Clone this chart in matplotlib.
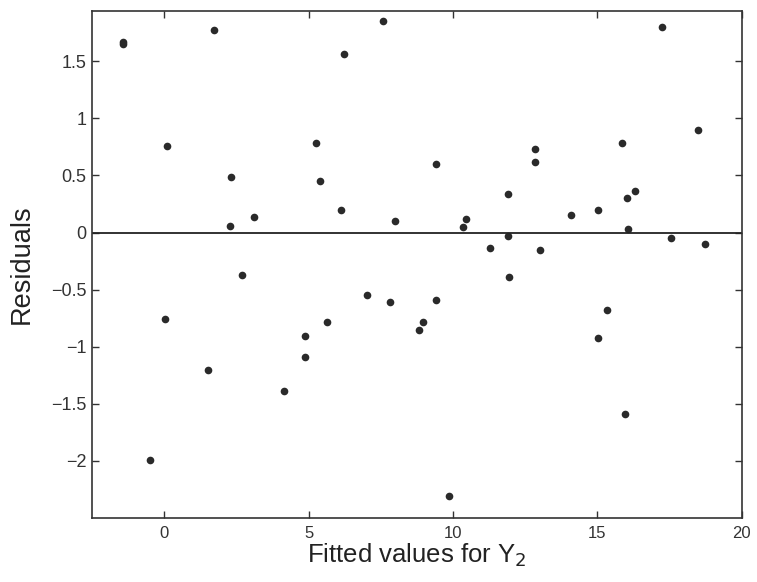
import numpy as np
import matplotlib
matplotlib.use('Agg')
import matplotlib.pyplot as plt

plt.rcParams['font.family'] = ['Liberation Sans', 'DejaVu Sans']

# fitted values and residuals
fitted = [-1.43, -1.43, 0.11, 1.74, 2.31, 2.27, 3.10, 5.24, 5.38, 6.21, 6.12, 7.57, 8.00,
          9.40, 10.33, 10.46, 11.89, 12.85, 12.84, 14.09, 15.02, 15.85, 16.01, 16.30,
          16.07, 17.22, 18.48, 17.54, 18.73, 11.28, 11.89, 13.02,
          -0.50, 0.02, 1.53, 2.71, 4.16, 4.87, 4.86, 5.63, 7.01, 7.82, 8.82, 8.97,
          9.41, 9.86, 11.93, 15.03, 15.34, 15.95]
residuals = [1.65, 1.67, 0.76, 1.77, 0.49, 0.055, 0.14, 0.78, 0.45, 1.56, 0.20, 1.85, 0.10,
             0.60, 0.047, 0.12, 0.34, 0.73, 0.615, 0.155, 0.20, 0.785, 0.30, 0.365,
             0.032, 1.80, 0.90, -0.044, -0.10, -0.137, -0.032, -0.15,
             -1.995, -0.76, -1.20, -0.376, -1.39, -0.907, -1.09, -0.787, -0.55, -0.61,
             -0.85, -0.787, -0.59, -2.31, -0.39, -0.92, -0.68, -1.59]

x_ticks = [0, 5, 10, 15, 20]
y_ticks = [-2, -1.5, -1, -0.5, 0, 0.5, 1, 1.5]
y_tick_labels = ['\u22122', '\u22121.5', '\u22121', '\u22120.5', '0', '0.5', '1', '1.5']

fig = plt.figure(figsize=(7.57, 5.82), dpi=100)
ax = fig.add_axes([0.1215, 0.110, 0.8585, 0.871])

ax.plot(fitted, residuals, 'o', color='#2a2a2a', markersize=5.5, markeredgewidth=0)
ax.axhline(0, color='#222222', linewidth=1.3)

ax.set_xlim(-2.5, 20)
ax.set_ylim(-2.5, 1.94)
ax.set_xticks(x_ticks)
ax.set_yticks(y_ticks)
ax.set_yticklabels(y_tick_labels)
ax.tick_params(direction='in', top=True, right=True, length=5, width=1,
               colors='#333333')
ax.tick_params(axis='y', pad=4, labelsize=13)
ax.tick_params(axis='x', pad=6, labelsize=12)
for s in ax.spines.values():
    s.set_linewidth(1.2)
    s.set_color('#333333')

ax.set_xlabel('Fitted values for Y$_2$', fontsize=18.5, color='#222222', labelpad=0)
ax.set_ylabel('Residuals', fontsize=19.5, color='#222222', labelpad=12)

fig.savefig('out.png', dpi=100)
